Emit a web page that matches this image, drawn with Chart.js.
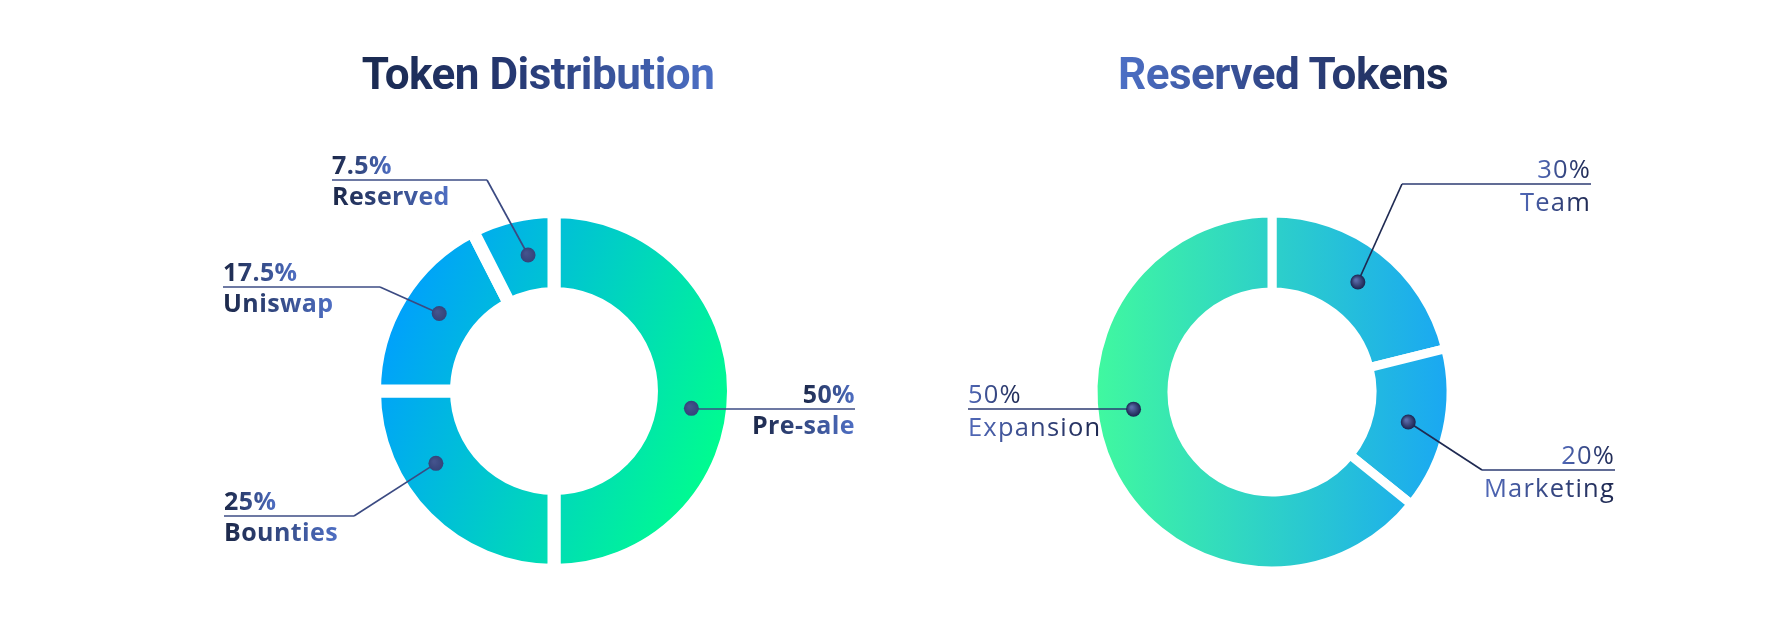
<!DOCTYPE html>
<html>
<head>
<meta charset="utf-8">
<title>Token Distribution / Reserved Tokens</title>
<script src="https://cdn.jsdelivr.net/npm/chart.js@4.4.1/dist/chart.umd.min.js"></script>
<style>
  html, body { margin: 0; padding: 0; background: #ffffff; }
  #page { position: relative; width: 1777px; height: 624px; overflow: hidden; }
  .box { position: absolute; top: 0; height: 624px; }
  .title {
    position: absolute; top: 52px; margin: 0;
    font: 700 44px Roboto, "Open Sans", sans-serif; line-height: 44px;
    letter-spacing: -0.5px; white-space: nowrap;
    transform: translateX(-50%);
    -webkit-background-clip: text; background-clip: text; color: transparent;
  }
  #titleLeft { left: 538px; background-image: linear-gradient(90deg, #1a2a50 0%, #24366e 40%, #4d70c6 100%); }
  #titleRight { left: 1283px; background-image: linear-gradient(90deg, #4d70c6 0%, #2c3f7c 55%, #1b2a50 100%); }
</style>
</head>
<body>
<div id="page">
  <h2 class="title" id="titleLeft">Token Distribution</h2>
  <h2 class="title" id="titleRight">Reserved Tokens</h2>
  <div class="box" style="left:0;width:888px"><canvas id="distChart"></canvas></div>
  <div class="box" style="left:888px;width:889px"><canvas id="reservedChart"></canvas></div>
</div>
<script>
// Token Distribution (clockwise from 12 o'clock)
const distLabels = ["Pre-sale", "Bounties", "Uniswap", "Reserved"];
const distValues = [50, 25, 17.5, 7.5];
const distPctText = ["50%", "25%", "17.5%", "7.5%"];

// Reserved Tokens: arc sizes as drawn in the picture, printed percentages kept apart
const reservedLabels = ["Team", "Marketing", "Expansion"];
const reservedValues = [21.1, 14.7, 64.2];
const reservedPctText = ["30%", "20%", "50%"];

// callout layout (canvas pixels): where the underline sits and how far along the arc the dot is
const distCallouts = [
	{ align: "right", textX: 855, lineY: 409, lineFrom: 700, lineTo: 855, along: 0.54 },
	{ align: "left", textX: 224, lineY: 516, lineFrom: 224, lineTo: 354, along: 0.65 },
	{ align: "left", textX: 223, lineY: 287, lineFrom: 223, lineTo: 380, along: 0.54 },
	{ align: "left", textX: 332, lineY: 180, lineFrom: 332, lineTo: 487, along: 0.60 }
];
const reservedCallouts = [
	{ align: "right", textX: 703, lineY: 184, lineFrom: 514, lineTo: 703, along: 0.5 },
	{ align: "right", textX: 727, lineY: 470, lineFrom: 594, lineTo: 727, along: 0.5 },
	{ align: "left", textX: 80, lineY: 409, lineFrom: 80, lineTo: 240, along: 0.58 }
];

function textGradient(ctx, x0, w, from, to) {
	let g = ctx.createLinearGradient(x0, 0, x0 + w, 0);
	g.addColorStop(0, from);
	g.addColorStop(1, to);
	return g;
}

const calloutPlugin = {
	id: "callouts",
	afterDatasetsDraw(chart, args, cfg) {
		const ctx = chart.ctx;
		const arcs = chart.getDatasetMeta(0).data;
		ctx.save();
		cfg.callouts.forEach((c, i) => {
			let p = arcs[i].getProps(["x", "y", "startAngle", "endAngle", "innerRadius", "outerRadius"], true);
			let a = p.startAngle + (p.endAngle - p.startAngle) * c.along;
			let r = (p.innerRadius + p.outerRadius) / 2;
			let dotX = p.x + Math.cos(a) * r;
			let dotY = p.y + Math.sin(a) * r;
			let elbowX = c.align === "left" ? c.lineTo : c.lineFrom;

			ctx.lineWidth = 1.7;
			ctx.strokeStyle = cfg.connectorColor;
			ctx.beginPath();
			ctx.moveTo(elbowX, c.lineY);
			ctx.lineTo(dotX, dotY);
			ctx.stroke();

			ctx.strokeStyle = cfg.underlineColor;
			ctx.beginPath();
			ctx.moveTo(c.lineFrom, c.lineY);
			ctx.lineTo(c.lineTo, c.lineY);
			ctx.stroke();

			// dot with a soft highlight
			let dg = ctx.createRadialGradient(dotX - 2, dotY - 2, 1, dotX, dotY, 7.5);
			dg.addColorStop(0, cfg.dotLight);
			dg.addColorStop(1, cfg.dotDark);
			ctx.fillStyle = dg;
			ctx.beginPath();
			ctx.arc(dotX, dotY, 7.5, 0, Math.PI * 2);
			ctx.fill();

			ctx.font = cfg.font;
			if ("letterSpacing" in ctx) ctx.letterSpacing = cfg.letterSpacing;
			ctx.textAlign = c.align;
			ctx.textBaseline = "alphabetic";
			[[cfg.pctText[i], c.lineY - 6.5], [chart.data.labels[i], c.lineY + cfg.nameDrop]].forEach(([txt, y]) => {
				let w = ctx.measureText(txt).width;
				let x0 = c.align === "left" ? c.textX : c.textX - w;
				ctx.fillStyle = textGradient(ctx, x0, w, cfg.textFrom, cfg.textTo);
				ctx.fillText(txt, c.textX, y);
			});
		});
		ctx.restore();
	}
};

function ringGradient(from, to, tilt) {
	return (c) => {
		const area = c.chart.chartArea;
		if (!area) return from;
		let cx = (area.left + area.right) / 2;
		let cy = (area.top + area.bottom) / 2;
		let R = 174;
		let g = c.chart.ctx.createLinearGradient(cx - R, cy - tilt * R, cx + R, cy + tilt * R);
		g.addColorStop(0, from);
		g.addColorStop(1, to);
		return g;
	};
}

function makeDoughnut(canvasId, labels, values, gap, cutout, padding, fill, calloutCfg) {
	return new Chart(document.getElementById(canvasId), {
		type: "doughnut",
		data: {
			labels: labels,
			datasets: [{
				data: values,
				backgroundColor: fill,
				borderColor: "#ffffff",
				borderWidth: gap,
				hoverOffset: 0
			}]
		},
		options: {
			responsive: true,
			maintainAspectRatio: false,
			animation: false,
			events: [],
			cutout: cutout,
			layout: { padding: padding },
			plugins: {
				legend: { display: false },
				tooltip: { enabled: false },
				callouts: calloutCfg
			}
		},
		plugins: [calloutPlugin]
	});
}

// left ring: centre (554, 391), outer 179.5 incl. half border, inner 97.5
makeDoughnut("distChart", distLabels, distValues, 13, "54.3%",
	{ left: 368, right: 148, top: 205, bottom: 47 },
	ringGradient("#009eff", "#00ff8c", 0.4),
	{
		callouts: distCallouts,
		pctText: distPctText,
		font: '700 25px "Open Sans"',
		letterSpacing: "0.4px",
		nameDrop: 25,
		textFrom: "#1b2748",
		textTo: "#4f6fc4",
		connectorColor: "#3b4a82",
		underlineColor: "#3d4d85",
		dotLight: "#44538c",
		dotDark: "#34437a"
	});

// right ring: centre (384, 392) in its canvas, outer 179, inner 100
makeDoughnut("reservedChart", reservedLabels, reservedValues, 9, "55.9%",
	{ left: 200.5, right: 321.5, top: 208.5, bottom: 48.5 },
	ringGradient("#40f8a0", "#1aa8f2", 0),
	{
		callouts: reservedCallouts,
		pctText: reservedPctText,
		font: '400 25.5px "Open Sans"',
		letterSpacing: "1.2px",
		nameDrop: 27,
		textFrom: "#5068b8",
		textTo: "#1e2850",
		connectorColor: "#1f2a52",
		underlineColor: "#2d3b72",
		dotLight: "#5a6aa8",
		dotDark: "#1a2450"
	});
</script>
</body>
</html>
